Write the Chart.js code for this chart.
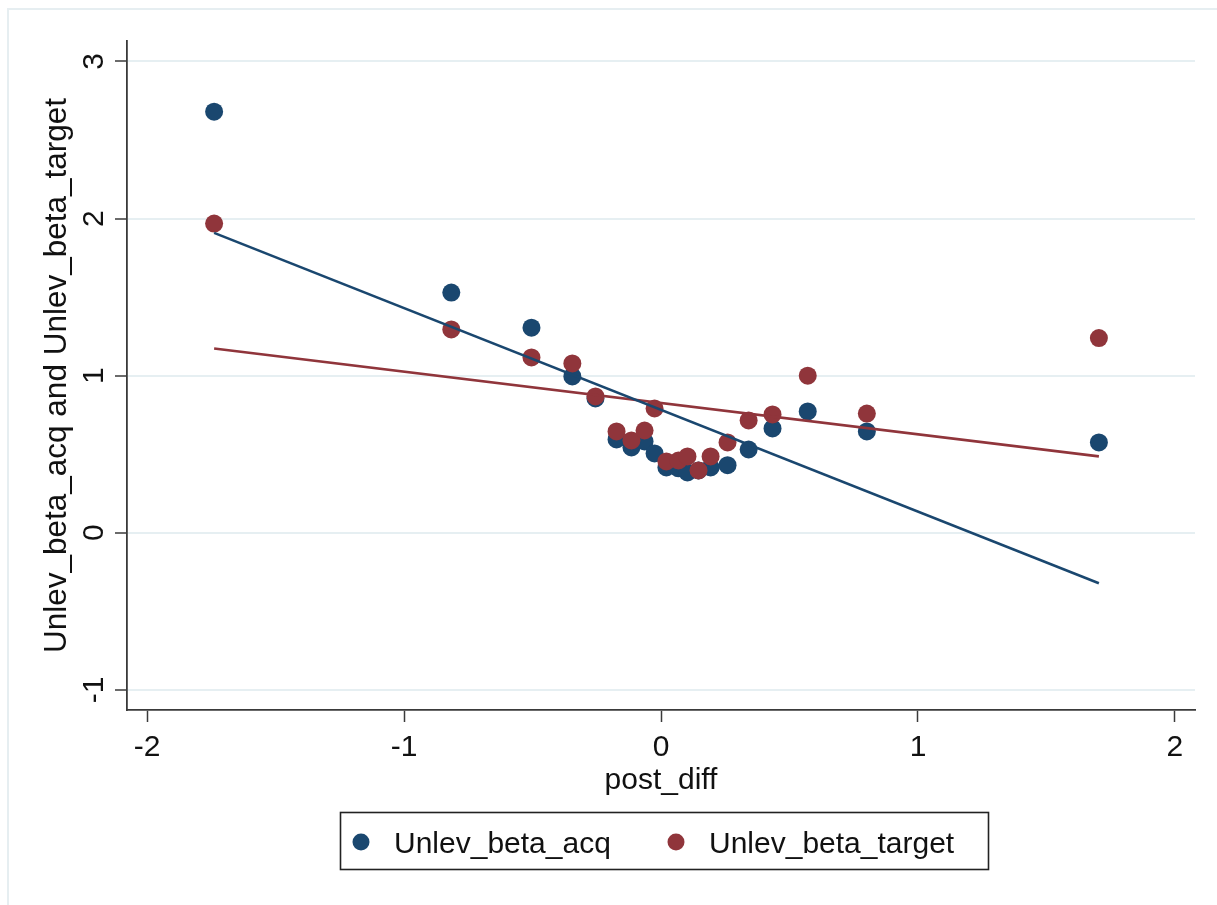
<!DOCTYPE html>
<html>
<head>
<meta charset="utf-8">
<script src="https://cdn.jsdelivr.net/npm/chart.js@4.4.1/dist/chart.umd.min.js"></script>
<style>
  html, body { margin: 0; padding: 0; background: #ffffff; }
  #wrap { position: relative; width: 1217px; height: 905px; }
</style>
</head>
<body>
<div id="wrap"><canvas id="c" width="1217" height="905"></canvas></div>
<script>
// ---- data ----
const postDiff = [-1.739, -0.816, -0.504, -0.345, -0.255, -0.173, -0.115, -0.064, -0.025, 0.021,
                  0.068, 0.103, 0.146, 0.193, 0.259, 0.341, 0.434, 0.571, 0.801, 1.704];
const unlevBetaAcq = [2.68, 1.529, 1.305, 0.995, 0.855, 0.594, 0.543, 0.581, 0.505, 0.416,
                      0.41, 0.384, 0.397, 0.416, 0.43, 0.53, 0.664, 0.772, 0.645, 0.575];
const unlevBetaTarget = [1.968, 1.294, 1.116, 1.078, 0.868, 0.645, 0.588, 0.651, 0.791, 0.454,
                         0.46, 0.486, 0.397, 0.486, 0.575, 0.715, 0.753, 1.0, 0.759, 1.239];
const fitX = [-1.739, 1.704];
const fitAcq = [1.909, -0.321];
const fitTarget = [1.173, 0.486];
const xTicks = [-2, -1, 0, 1, 2];
const yTicks = [-1, 0, 1, 2, 3];
const seriesNames = ['Unlev_beta_acq', 'Unlev_beta_target'];
const xTitle = 'post_diff';
const yTitle = 'Unlev_beta_acq and Unlev_beta_target';

const BLUE = '#1a476f';
const RED = '#90353b';
const GRID = '#e6eff2';
const AXIS = '#3a3a3a';
const FONT = "'Liberation Sans', Arial, sans-serif";

const toPts = (xs, ys) => xs.map((x, i) => ({ x: x, y: ys[i] }));

const frameAndLegend = {
  id: 'frameAndLegend',
  beforeDraw(chart) {
    const ctx = chart.ctx;
    ctx.save();
    ctx.fillStyle = '#ffffff';
    ctx.fillRect(0, 0, chart.width, chart.height);
    ctx.strokeStyle = '#e6eef1';
    ctx.lineWidth = 2;
    ctx.beginPath();
    ctx.moveTo(8, chart.height);
    ctx.lineTo(8, 9);
    ctx.lineTo(chart.width, 9);
    ctx.stroke();
    ctx.restore();
  },
  afterDraw(chart) {
    const ctx = chart.ctx;
    ctx.save();
    ctx.strokeStyle = '#222222';
    ctx.lineWidth = 1.6;
    ctx.strokeRect(340.5, 812.5, 648, 57);
    const items = [
      { color: chart.data.datasets[3].backgroundColor, label: seriesNames[0], dx: 361, tx: 394 },
      { color: chart.data.datasets[2].backgroundColor, label: seriesNames[1], dx: 676, tx: 709 }
    ];
    ctx.font = '30px ' + FONT;
    ctx.textBaseline = 'alphabetic';
    ctx.textAlign = 'left';
    items.forEach(it => {
      ctx.fillStyle = it.color;
      ctx.beginPath();
      ctx.arc(it.dx, 842, 8.5, 0, Math.PI * 2);
      ctx.fill();
      ctx.fillStyle = '#111111';
      ctx.fillText(it.label, it.tx, 853);
    });
    ctx.restore();
  }
};

new Chart(document.getElementById('c'), {
  type: 'scatter',
  data: {
    datasets: [
      { label: seriesNames[0] + ' fit', data: toPts(fitX, fitAcq), showLine: true,
        borderColor: BLUE, borderWidth: 2.6, pointRadius: 0, backgroundColor: BLUE },
      { label: seriesNames[1] + ' fit', data: toPts(fitX, fitTarget), showLine: true,
        borderColor: RED, borderWidth: 2.6, pointRadius: 0, backgroundColor: RED },
      { label: seriesNames[1], data: toPts(postDiff, unlevBetaTarget),
        backgroundColor: RED, borderColor: RED, borderWidth: 0, pointRadius: 9 },
      { label: seriesNames[0], data: toPts(postDiff, unlevBetaAcq),
        backgroundColor: BLUE, borderColor: BLUE, borderWidth: 0, pointRadius: 9 }
    ]
  },
  options: {
    responsive: false,
    animation: false,
    layout: { padding: { left: 38, top: 41, right: 22, bottom: 105 } },
    plugins: { legend: { display: false }, tooltip: { enabled: false } },
    scales: {
      x: {
        type: 'linear',
        min: -2.078, max: 2.078,
        afterBuildTicks: s => { s.ticks = xTicks.map(v => ({ value: v })); },
        afterFit: s => { s.height = 90; },
        grid: { display: true, drawOnChartArea: false, drawTicks: true, tickLength: 12,
                tickColor: AXIS, tickWidth: 1.5 },
        border: { display: true, color: AXIS, width: 1.8 },
        ticks: { color: '#111', font: { family: FONT, size: 30 }, padding: 8,
                 maxRotation: 0, minRotation: 0, autoSkip: false,
                 callback: v => String(v) },
        title: { display: true, text: xTitle, color: '#111',
                 font: { family: FONT, size: 30 }, padding: { top: 0, bottom: 1 } }
      },
      y: {
        type: 'linear',
        min: -1.128, max: 3.13,
        afterBuildTicks: s => { s.ticks = yTicks.map(v => ({ value: v })); },
        afterFit: s => { s.width = 89; },
        grid: { display: true, drawOnChartArea: true, color: GRID, lineWidth: 2,
                drawTicks: true, tickLength: 12, tickColor: AXIS, tickWidth: 1.5 },
        border: { display: true, color: AXIS, width: 1.8 },
        ticks: { color: '#111', font: { family: FONT, size: 30 }, padding: 7,
                 minRotation: 90, maxRotation: 90, crossAlign: 'center', autoSkip: false,
                 callback: v => String(v) },
        title: { display: true, text: yTitle, color: '#111',
                 font: { family: FONT, size: 31.5 }, padding: { top: 0, bottom: 0 } }
      }
    }
  },
  plugins: [frameAndLegend]
});
</script>
</body>
</html>
